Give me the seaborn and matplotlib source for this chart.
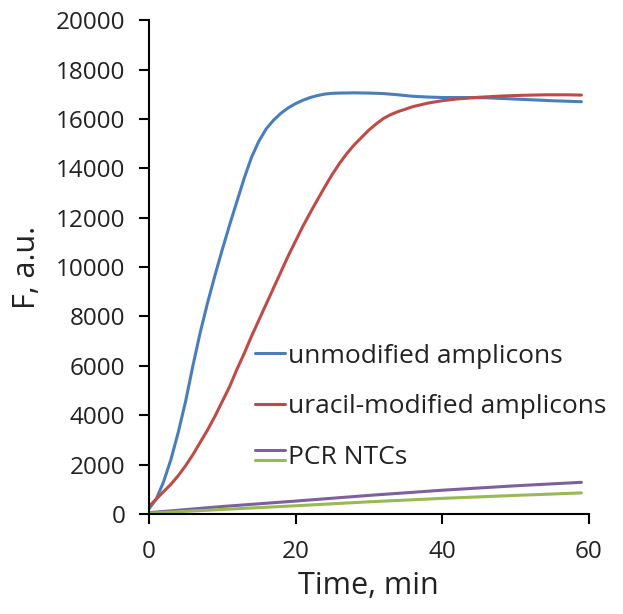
import numpy as np
import pandas as pd
import seaborn as sns
import matplotlib.pyplot as plt
from matplotlib.lines import Line2D
from matplotlib.legend_handler import HandlerBase

# values (time in min, fluorescence in a.u.)
time_unmod = [0, 1, 2, 3, 4, 5, 6, 7, 8, 9, 10, 11, 12, 13, 14, 15, 16, 17, 18, 19, 20,
              21, 22, 23, 24, 25, 26, 28, 30, 32, 34, 36, 38, 40, 43, 46, 49, 52, 55, 59]
unmod = [200, 600, 1300, 2200, 3300, 4550, 6000, 7350, 8550, 9650, 10700, 11700, 12650,
         13600, 14450, 15100, 15600, 15950, 16230, 16450, 16620, 16760, 16870, 16950,
         17010, 17040, 17050, 17060, 17050, 17030, 16980, 16920, 16890, 16870, 16870,
         16860, 16820, 16780, 16740, 16700]

time_ura = [0, 1, 2, 3, 4, 5, 6, 7, 8, 9, 10, 11, 12, 13, 14, 15, 16, 17, 18, 19, 20,
            21, 22, 23, 24, 25, 26, 27, 28, 29, 30, 31, 32, 33, 34, 36, 38, 40, 42, 45,
            48, 51, 54, 57, 59]
ura = [300, 600, 900, 1200, 1550, 1950, 2400, 2900, 3400, 3950, 4550, 5150, 5850, 6500,
       7200, 7850, 8500, 9150, 9800, 10450, 11050, 11650, 12200, 12730, 13250, 13750,
       14200, 14600, 14950, 15250, 15550, 15800, 16020, 16180, 16300, 16500, 16640,
       16740, 16810, 16880, 16930, 16960, 16980, 16980, 16970]

time_ntc = [0, 10, 20, 30, 40, 50, 59]
ntc_purple = [50, 300, 520, 750, 960, 1140, 1280]
ntc_green = [30, 180, 330, 490, 630, 750, 850]

labels = ["unmodified amplicons", "uracil-modified amplicons", "PCR NTCs", "PCR NTCs 2"]
colors = ["#4a7ebb", "#be4b48", "#7d60a0", "#98b954"]

df = pd.concat([
    pd.DataFrame({'time': time_unmod, 'F': unmod, 'series': labels[0]}),
    pd.DataFrame({'time': time_ura, 'F': ura, 'series': labels[1]}),
    pd.DataFrame({'time': time_ntc, 'F': ntc_purple, 'series': labels[2]}),
    pd.DataFrame({'time': time_ntc, 'F': ntc_green, 'series': labels[3]}),
])


class HandlerStacked(HandlerBase):
    # two short lines stacked for the NTC entry
    def create_artists(self, legend, orig_handle, xdescent, ydescent, width, height, fontsize, trans):
        out = []
        for i, h in enumerate(orig_handle):
            y = height * (0.75 - 0.55 * i) - ydescent
            ln = Line2D([-xdescent, width - xdescent], [y, y], color=h.get_color(),
                        lw=h.get_linewidth(), transform=trans)
            out.append(ln)
        return out


sns.set_style("white")
plt.rcParams['font.family'] = ['Open Sans', 'DejaVu Sans']

fig = plt.figure(figsize=(6.23, 6.14), dpi=100)
ax = fig.add_axes([0.239, 0.163, 0.706, 0.804])

sns.lineplot(data=df, x='time', y='F', hue='series', palette=colors, hue_order=labels,
             ax=ax, lw=2.2, legend=False, sort=False)

ax.set_xlim(0, 60)
ax.set_ylim(0, 20000)
ax.set_xticks([0, 20, 40, 60])
ax.set_yticks(np.arange(0, 20001, 2000))
ax.tick_params(direction='out', length=7, width=1.5, color='black', labelsize=17.5,
               labelcolor='#222222', left=True, bottom=True)
ax.tick_params(axis='y', pad=10)
ax.tick_params(axis='x', pad=12)
for side in ['top', 'right']:
    ax.spines[side].set_visible(False)
for side in ['left', 'bottom']:
    ax.spines[side].set_color('black')
    ax.spines[side].set_linewidth(1.5)

ax.set_xlabel("Time, min", fontsize=22, color='#222222', labelpad=5)
ax.set_ylabel("F, a.u.", fontsize=22, color='#222222', labelpad=10)

h = [Line2D([], [], color=c, lw=2.2) for c in colors]
ax.legend([h[0], h[1], (h[2], h[3])], labels[:3], handler_map={tuple: HandlerStacked()},
          loc='upper left', bbox_to_anchor=(0.241, 0.345), frameon=False, fontsize=19,
          handlelength=1.15, handletextpad=0.1, labelspacing=0.97, labelcolor='#222222',
          borderaxespad=0, borderpad=0)

fig.savefig("out.png", dpi=100)
